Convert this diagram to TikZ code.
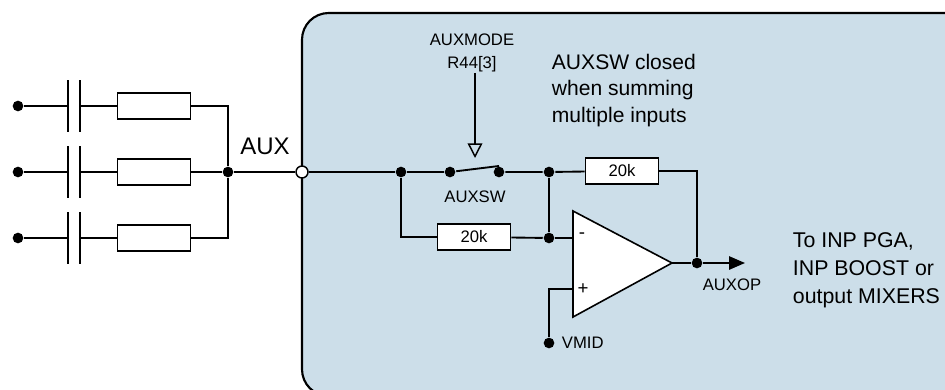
\documentclass[tikz,border=0pt]{standalone}
\usepackage{fontspec}
\setmainfont{Liberation Sans}
\usepackage{tikz}
\usetikzlibrary{arrows.meta}
\definecolor{boxblue}{RGB}{204,222,233}

\begin{document}
\begin{tikzpicture}[x=0.75pt,y=-0.75pt,line width=1.4pt,
    dot/.style={circle,fill=black,inner sep=0pt,minimum size=8pt},
    pin/.style={circle,draw,fill=white,inner sep=0pt,minimum size=9pt,line width=1.1pt},
    res/.style={draw,fill=white,inner sep=0pt,minimum width=55pt,minimum height=19.5pt,line width=1.2pt,font=\fontsize{12.5}{14}\selectfont},
    big/.style={font=\fontsize{15.8}{20}\selectfont,inner sep=0pt,align=left},
    small/.style={font=\fontsize{12.5}{17}\selectfont,inner sep=0pt,align=center}]
        \useasboundingbox (0,0) rectangle (945,389);
        \draw[fill=boxblue,line width=1.6pt,rounded corners=20] (302,396) -- (302,13) -- (980,13) -- (980,396) -- cycle;

        \node[dot] (in1) at (18,106) {};
        \node[dot] (in2) at (18,172) {};
        \node[dot] (in3) at (18,238) {};
        \coordinate (ca1) at (68,106);
        \coordinate (cb1) at (80,106);
        \coordinate (ca2) at (68,172);
        \coordinate (cb2) at (80,172);
        \coordinate (ca3) at (68,238);
        \coordinate (cb3) at (80,238);
        \node[res] (r1) at (154,106) {};
        \node[res] (r2) at (154,172) {};
        \node[res] (r3) at (154,238) {};
        \node[dot] (jin) at (228,172) {};
        \node[pin] (aux) at (302,172) {};
        \node[font=\fontsize{18}{20}\selectfont,inner sep=0pt] (auxlbl) at (265,146) {AUX};

        \draw (in1) -- (ca1);
        \draw (in2) -- (ca2);
        \draw (in3) -- (ca3);
        \draw ([yshift=19.5pt]ca1) -- ([yshift=-19.5pt]ca1);
        \draw ([yshift=19.5pt]cb1) -- ([yshift=-19.5pt]cb1);
        \draw ([yshift=19.5pt]ca2) -- ([yshift=-19.5pt]ca2);
        \draw ([yshift=19.5pt]cb2) -- ([yshift=-19.5pt]cb2);
        \draw ([yshift=19.5pt]ca3) -- ([yshift=-19.5pt]ca3);
        \draw ([yshift=19.5pt]cb3) -- ([yshift=-19.5pt]cb3);
        \draw (cb1) -- (r1);
        \draw (cb2) -- (r2);
        \draw (cb3) -- (r3);
        \draw (r1) -| (jin);
        \draw (r3) -| (jin);
        \draw (r2) -- (jin) -- (aux);

        \node[dot] (n1) at (401,172) {};
        \node[dot] (swl) at (450,172) {};
        \node[dot] (swr) at (499,172) {};
        \coordinate (blade) at (499,166);
        \node[dot] (j1) at (549,172) {};
        \node[dot] (j2) at (549,238) {};
        \node[res] (ra) at (622,171) {20k};
        \node[res] (rb) at (474,237) {20k};
        \node[small] (mode) at (472,53) {AUXMODE\\R44[3]};
        \coordinate (modetip) at (475,158);
        \node[small] (swlbl) at (475,197) {AUXSW};
        \node[big,anchor=north west] (note) at (551,53) {AUXSW closed\\when summing\\multiple inputs};

        \draw (aux) -- (n1) -- (swl);
        \draw (swl) -- (blade);
        \draw (swr) -- (j1) -- (ra);
        \draw (n1) |- (rb);
        \draw (rb) -- (j2);
        \draw (j1) -- (j2);
        \draw[-{Triangle[open,length=11pt,width=11pt]},line width=1.1pt] (mode.south -| modetip) -- (modetip);

        \coordinate (inm) at (573,238);
        \coordinate (inp) at (573,289);
        \coordinate (otip) at (672,263);
        \draw[fill=white,line width=1.2pt] (573,211) -- (otip) -- (573,317) -- cycle;
        \node[font=\fontsize{14}{14}\selectfont] (minus) at (582,236) {-};
        \node[font=\fontsize{14}{14}\selectfont] (plus) at (583,289) {+};
        \node[dot] (out) at (697,263) {};
        \coordinate (oend) at (745,263);
        \node[dot] (vmid) at (549,343) {};
        \node[small,anchor=west] (vmidlbl) at (561,343) {VMID};
        \node[small] (auxop) at (732,285) {AUXOP};
        \node[big,anchor=north west,font=\fontsize{16}{21}\selectfont] (dest) at (792,232) {To INP PGA,\\INP BOOST or\\output MIXERS};

        \draw (j2) -- (inm);
        \draw (inp) -| (vmid);
        \draw (ra) -| (out);
        \draw (otip) -- (out);
        \draw[-{Triangle[length=12pt,width=10pt]}] (out) -- (oend);
\end{tikzpicture}
\end{document}
